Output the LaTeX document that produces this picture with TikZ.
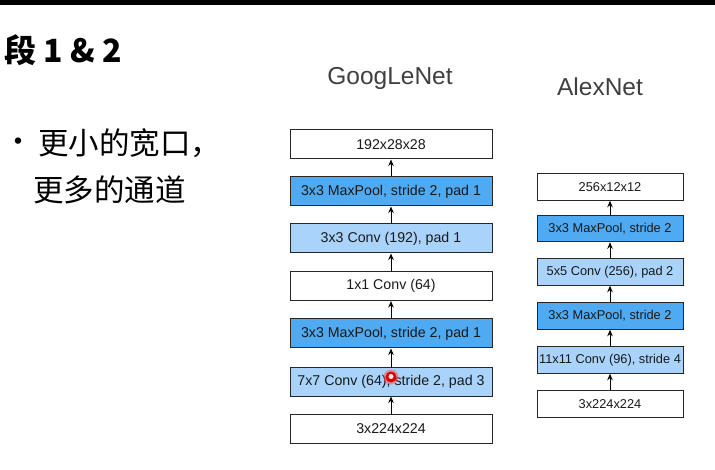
\documentclass[tikz,border=0pt]{standalone}
\usepackage{fontspec}
\setmainfont{Liberation Sans}
\newfontfamily\cjk{Noto Sans CJK SC}
\usetikzlibrary{arrows.meta}
\definecolor{dkblue}{HTML}{4FAAF2}
\definecolor{ltblue}{HTML}{A9D3FA}
\definecolor{titlegray}{HTML}{404040}
\tikzset{
  gbox/.style={draw=black!85, line width=1pt, minimum width=202pt, minimum height=29pt, inner sep=0pt, font=\fontsize{14.2}{16}\selectfont, text=black!90},
  abox/.style={draw=black!85, line width=1pt, minimum width=146pt, minimum height=26.5pt, inner sep=0pt, font=\fontsize{12.8}{15}\selectfont, text=black!90},
  dk/.style={fill=dkblue},
  lt/.style={fill=ltblue},
  wh/.style={fill=white},
  flow/.style={draw=black, line width=1pt, -{Stealth[length=6.5pt,width=5.5pt]}},
  nettitle/.style={font=\fontsize{24.5}{28}\selectfont, text=titlegray}
}
\begin{document}
\begin{tikzpicture}[x=1pt,y=-1pt]
\useasboundingbox (0,0) rectangle (715,470);
\fill[white] (0,0) rectangle (715,470);
\fill[black] (0,0) rectangle (715,5);

% heading
\node[anchor=west, inner sep=0pt, font=\cjk\bfseries\fontsize{32}{36}\selectfont] (head) at (4,50) {段 1 \& 2};
% bullet
\node[anchor=center, inner sep=0pt, font=\cjk\fontsize{30}{34}\selectfont] (dot) at (19,145) {・};
\node[anchor=west, inner sep=0pt, font=\cjk\fontsize{30.5}{34}\selectfont] (l1) at (38,143) {更小的宽口，};
\node[anchor=west, inner sep=0pt, font=\cjk\fontsize{30.5}{34}\selectfont] (l2) at (33,190) {更多的通道};

% titles
\node[nettitle] (gtitle) at (390,78) {GoogLeNet};
\node[nettitle] (atitle) at (600,87) {AlexNet};

% GoogLeNet
\node[gbox,wh] (g1) at (391,144.5) {192x28x28};
\node[gbox,dk] (g2) at (391,191.5) {3x3 MaxPool, stride 2, pad 1};
\node[gbox,lt] (g3) at (391,238.5) {3x3 Conv (192), pad 1};
\node[gbox,wh] (g4) at (391,286) {1x1 Conv (64)};
\node[gbox,dk] (g5) at (391,333.5) {3x3 MaxPool, stride 2, pad 1};
\node[gbox,lt] (g6) at (391,381.5) {7x7 Conv (64), stride 2, pad 3};
\node[gbox,wh] (g7) at (391,428.5) {3x224x224};
\draw[flow] (g7) -- (g6);
\draw[flow] (g6) -- (g5);
\draw[flow] (g5) -- (g4);
\draw[flow] (g4) -- (g3);
\draw[flow] (g3) -- (g2);
\draw[flow] (g2) -- (g1);

% AlexNet
\node[abox,wh] (a1) at (610,187) {256x12x12};
\node[abox,dk] (a2) at (610,228.5) {3x3 MaxPool, stride 2};
\node[abox,lt] (a3) at (610,272) {5x5 Conv (256), pad 2};
\node[abox,dk] (a4) at (610,316) {3x3 MaxPool, stride 2};
\node[abox,lt] (a5) at (610,360) {11x11 Conv (96), stride 4};
\node[abox,wh] (a6) at (610,404) {3x224x224};
\draw[flow] (a6) -- (a5);
\draw[flow] (a5) -- (a4);
\draw[flow] (a4) -- (a3);
\draw[flow] (a3) -- (a2);
\draw[flow] (a2) -- (a1);

% pointer marker
\fill[red!70, opacity=0.5] (391,377) circle (7.5);
\fill[red!85!black] (391,377) circle (5.5);
\fill[white!90!red] (391,376.5) circle (2.5);
\end{tikzpicture}
\end{document}
